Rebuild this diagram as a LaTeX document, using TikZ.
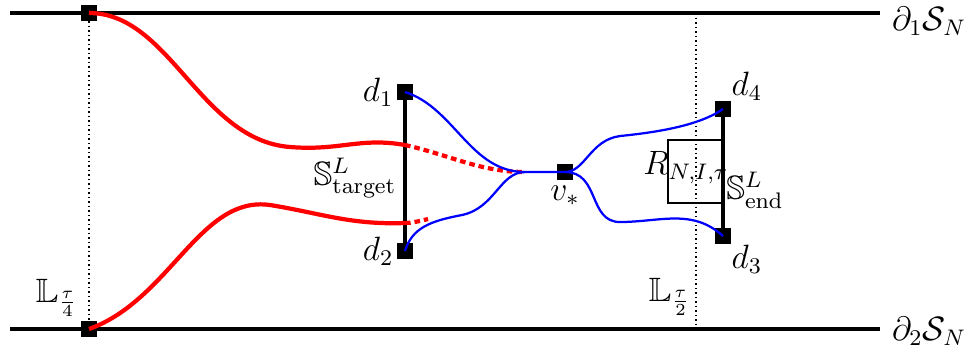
\documentclass[tikz,border=0pt]{standalone}
\usepackage{amsmath,amssymb}
\usepackage{tikz}
\usetikzlibrary{arrows.meta}

\begin{document}
\begin{tikzpicture}[x=0.0125cm,y=-0.0125cm,font=\large,
  pt/.style={fill=black,inner sep=0pt,minimum size=5.4pt},
  redpath/.style={red,line width=1.5pt},
  reddots/.style={red,line width=1.5pt,dash pattern=on 2pt off 1.4pt},
  bluepath/.style={blue,line width=0.8pt},
  seg/.style={line width=1.1pt},
  vline/.style={line width=0.6pt,dash pattern=on 0.6pt off 1pt}]
\useasboundingbox (0,0) rectangle (972,351);
% the two sides of the strip
\coordinate (t0) at (10,13); \coordinate (t1) at (880,13);
\coordinate (b0) at (10,329); \coordinate (b1) at (880,329);
\draw[seg] (t0) -- (t1); \draw[seg] (b0) -- (b1);
\node (top) at (929,21) {$\partial_1\mathcal{S}_N$};
\node (bot) at (929,331) {$\partial_2\mathcal{S}_N$};
% vertical lines
\node[pt] (a) at (89,13) {}; \node[pt] (b) at (89,329) {};
\draw[vline] (a) -- (b);
\node (lq) at (57,298) {$\mathbb{L}_{\frac{\tau}{4}}$};
\coordinate (h0) at (696,13); \coordinate (h1) at (696,329);
\draw[vline] (h0) -- (h1);
\node (lh) at (670,297) {$\mathbb{L}_{\frac{\tau}{2}}$};
% target segment
\node[pt] (d1) at (405,92) {}; \node[pt] (d2) at (405,251) {};
\draw[seg] (d1) -- (d2);
\node[left,inner sep=1pt] (d1l) at (d1.west) {$d_1$};
\node[left,inner sep=1pt] (d2l) at (d2.west) {$d_2$};
\node (st) at (355,178) {$\mathbb{S}^L_{\mathrm{target}}$};
% end segment and box
\draw (668,140) rectangle (723,203);
\node (rn) at (686,168) {$R_{N,I,\tau}$};
\node[pt] (d4) at (723,109) {}; \node[pt] (d3) at (723,236) {};
\draw[seg] (d4) -- (d3);
\node[above right,inner sep=0pt] (d4l) at (d4.north east) {$d_4$};
\node[below right,inner sep=0pt] (d3l) at (d3.south east) {$d_3$};
\node (se) at (755,190) {$\mathbb{S}^L_{\mathrm{end}}$};
% meeting point
\node[pt] (v) at (565,172) {};
\node[below,inner sep=2pt] (vl) at (v.south) {$v_*$};
% red paths
\coordinate (r1) at (405,145); \coordinate (r2) at (405,223);
\coordinate (m) at (525,172); \coordinate (r3) at (428,219);
\draw[redpath] (a.center) .. controls (170,13) and (200,140) .. (290,147)
  .. controls (340,151) and (360,137) .. (r1);
\draw[reddots] (r1) .. controls (450,155) and (480,172) .. (m);
\draw[redpath] (b.center) .. controls (170,300) and (200,195) .. (270,205)
  .. controls (320,213) and (350,225) .. (r2);
\draw[reddots] (r2) .. controls (412,223) and (420,221) .. (r3);
% blue paths
\draw[bluepath] (d1.center) .. controls (455,108) and (470,172) .. (m) -- (v.center);
\draw[bluepath] (d2.center) .. controls (412,228) and (430,221) .. (462,215)
  .. controls (495,208) and (500,172) .. (m);
\draw[bluepath] (v.center) .. controls (585,172) and (590,140) .. (620,136)
  .. controls (660,132) and (700,125) .. (d4.center);
\draw[bluepath] (v.center) .. controls (600,172) and (588,222) .. (620,222)
  .. controls (660,222) and (692,208) .. (d3.center);
\end{tikzpicture}
\end{document}
